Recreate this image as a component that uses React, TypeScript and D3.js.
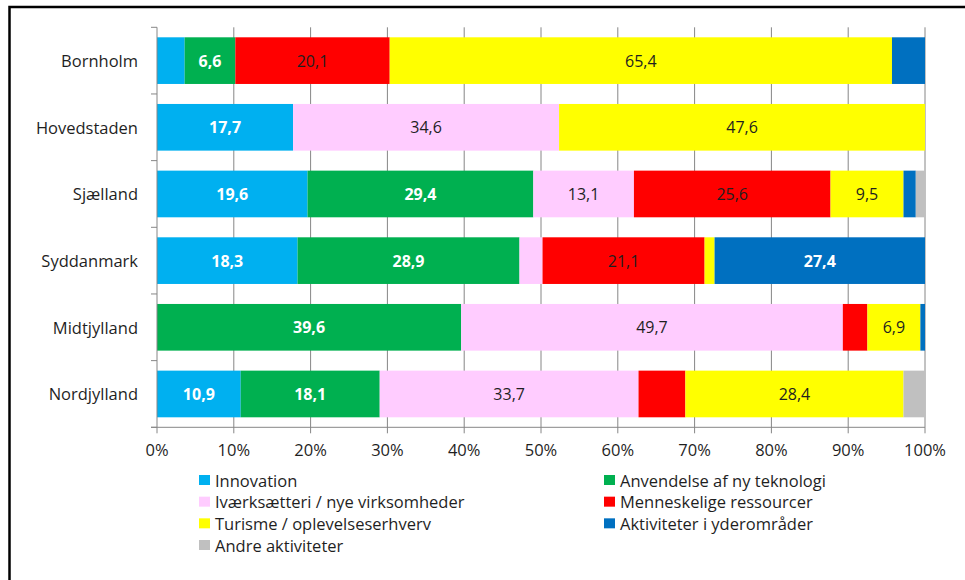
import * as d3 from 'd3';
import { useEffect } from 'react';

// Andel af tilsagn pr. region fordelt på indsatsområde (pct.)
const REGIONS = ['Bornholm', 'Hovedstaden', 'Sjælland', 'Syddanmark', 'Midtjylland', 'Nordjylland'];

const innovation = [3.6, 17.7, 19.6, 18.3, 0, 10.9];
const anvendelse = [6.6, 0, 29.4, 28.9, 39.6, 18.1];
const ivaerksaetteri = [0, 34.6, 13.1, 3.0, 49.7, 33.7];
const menneskelige = [20.1, 0, 25.6, 21.1, 3.2, 6.1];
const turisme = [65.4, 47.6, 9.5, 1.3, 6.9, 28.4];
const yderomraader = [4.3, 0, 1.6, 27.4, 0.6, 0];
const andre = [0, 0, 1.2, 0, 0, 2.8];

const SERIES_NAMES = [
  'Innovation',
  'Anvendelse af ny teknologi',
  'Iværksætteri / nye virksomheder',
  'Menneskelige ressourcer',
  'Turisme / oplevelseserhverv',
  'Aktiviteter i yderområder',
  'Andre aktiviteter',
];
const SERIES_VALUES = [innovation, anvendelse, ivaerksaetteri, menneskelige, turisme, yderomraader, andre];
const COLORS = ['#00B0F0', '#00B050', '#FFCCFF', '#FF0000', '#FFFF00', '#0070C0', '#C0C0C0'];
const WHITE_BOLD = [true, true, false, false, false, true, false];
const X_TICKS = [0, 0.1, 0.2, 0.3, 0.4, 0.5, 0.6, 0.7, 0.8, 0.9, 1];

const FONT = '"Open Sans", "Noto Sans", sans-serif';
const AXIS = '#868686';
const TEXT = '#1f1f1f';
const LABEL_MIN = 6.5; // smaller segments carry no data label

export default function App() {
  useEffect(() => {
    document.body.style.margin = '0';
  }, []);

  const rows = REGIONS.map((r, i) => {
    const row: Record<string, any> = { region: r };
    SERIES_NAMES.forEach((s, k) => (row[s] = SERIES_VALUES[k][i]));
    return row;
  });
  const stacked = d3.stack<any>().keys(SERIES_NAMES).offset(d3.stackOffsetExpand)(rows);

  const x = d3.scaleLinear().domain([0, 1]).range([157, 925]);
  const y = d3.scaleBand().domain(REGIONS).range([27.3, 427.3]).paddingInner(0.3).paddingOuter(0.15);
  const top = 27.3;
  const bottom = 427.3;
  const step = y.step();

  const legendCols = [199, 604];
  const legendY = d3.scaleLinear().domain([0, 3]).range([480, 545]);

  return (
    <svg width={965} height={580} style={{ display: 'block' }} fontFamily={FONT}>
      <rect x={0} y={0} width={965} height={580} fill="#fff" />
      {/* ramme */}
      <path d="M9.5,580 V7 H965" fill="none" stroke="#000" strokeWidth={2.5} />

      {/* gitterlinjer */}
      {X_TICKS.slice(1).map(t => (
        <line key={t} x1={x(t)} x2={x(t)} y1={top} y2={bottom + 6} stroke={AXIS} strokeWidth={1} />
      ))}

      {stacked.map((layer, k) =>
        layer.map((d, i) => {
          const v = SERIES_VALUES[k][i];
          if (!v) return null;
          const x0 = x(d[0]);
          const x1 = x(d[1]);
          const yy = y(REGIONS[i])!;
          return (
            <g key={`${k}-${i}`}>
              <rect x={x0} y={yy} width={x1 - x0} height={y.bandwidth()} fill={COLORS[k]} />
              {v >= LABEL_MIN && (
                <text
                  x={(x0 + x1) / 2}
                  y={yy + y.bandwidth() / 2}
                  textAnchor="middle"
                  dominantBaseline="central"
                  fontSize={16}
                  fontWeight={WHITE_BOLD[k] ? 700 : 400}
                  fill={WHITE_BOLD[k] ? '#fff' : TEXT}
                >
                  {d3.format('.1f')(v).replace('.', ',')}
                </text>
              )}
            </g>
          );
        })
      )}

      {/* y-akse */}
      <line x1={157} x2={157} y1={top} y2={bottom} stroke={AXIS} />
      {d3.range(REGIONS.length + 1).map(j => (
        <line key={j} x1={151} x2={157} y1={top + j * step} y2={top + j * step} stroke={AXIS} />
      ))}
      {REGIONS.map(r => (
        <text
          key={r}
          x={138}
          y={y(r)! + y.bandwidth() / 2}
          textAnchor="end"
          dominantBaseline="central"
          fontSize={16.5}
          fill={TEXT}
        >
          {r}
        </text>
      ))}

      {/* x-akse */}
      <line x1={151} x2={925} y1={bottom} y2={bottom} stroke={AXIS} />
      <line x1={157} x2={157} y1={bottom} y2={bottom + 6} stroke={AXIS} />
      {X_TICKS.map(t => (
        <text key={t} x={x(t)} y={449} textAnchor="middle" dominantBaseline="central" fontSize={16.5} fill={TEXT}>
          {d3.format('.0%')(t)}
        </text>
      ))}

      {/* forklaring */}
      {SERIES_NAMES.map((s, k) => {
        const lx = legendCols[k % 2];
        const ly = legendY(Math.floor(k / 2));
        return (
          <g key={s}>
            <rect x={lx} y={ly - 5} width={11} height={10} fill={COLORS[k]} />
            <text x={lx + 16} y={ly} dominantBaseline="central" fontSize={16.5} fill={TEXT}>
              {s}
            </text>
          </g>
        );
      })}
    </svg>
  );
}
